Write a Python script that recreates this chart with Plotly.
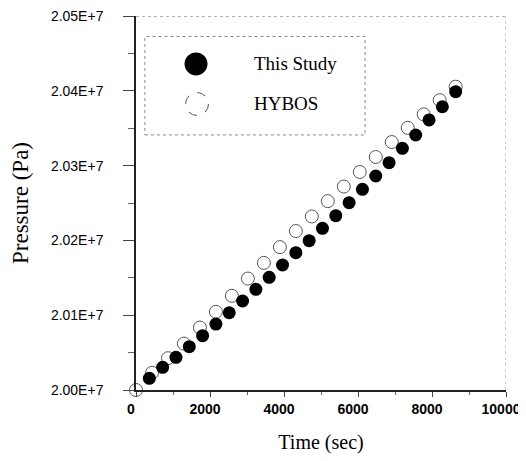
import plotly.graph_objects as go

# ---- data ----
study_time = [360, 720, 1080, 1440, 1800, 2160, 2520, 2880, 3240, 3600, 3960, 4320,
              4680, 5040, 5400, 5760, 6120, 6480, 6840, 7200, 7560, 7920, 8280, 8640]
study_pressure = [20015600, 20030300, 20043700, 20057900, 20072600, 20088200, 20103300,
                  20119000, 20134600, 20150700, 20167100, 20183600, 20199600, 20216200,
                  20233000, 20250400, 20268300, 20286100, 20303900, 20323100, 20340900,
                  20361000, 20378700, 20398800]

hybos_time = [0, 432, 864, 1296, 1728, 2160, 2592, 3024, 3456, 3888, 4320, 4752,
              5184, 5616, 6048, 6480, 6912, 7344, 7776, 8208, 8640]
hybos_pressure = [20000000, 20023000, 20042500, 20062000, 20083500, 20104500, 20126000,
                  20149000, 20170000, 20191000, 20212500, 20232000, 20252500, 20272000,
                  20291500, 20311500, 20331500, 20350500, 20368500, 20387500, 20405500]

x_tick_vals = [0, 2000, 4000, 6000, 8000, 10000]
x_tick_text = ["0", "2000", "4000", "6000", "8000", "10000"]
y_tick_vals = [20000000, 20100000, 20200000, 20300000, 20400000, 20500000]
y_tick_text = ["2.00E+7", "2.01E+7", "2.02E+7", "2.03E+7", "2.04E+7", "2.05E+7"]

series_names = ["This Study", "HYBOS"]

SERIF = "Liberation Serif, Times New Roman, serif"
SANS = "Liberation Sans, Arial, sans-serif"

fig = go.Figure()
fig.add_trace(go.Scatter(
    x=hybos_time, y=hybos_pressure, mode="markers", name=series_names[1],
    marker=dict(symbol="circle", size=13, color="white",
                line=dict(color="#555555", width=1)),
    showlegend=False, cliponaxis=False))
fig.add_trace(go.Scatter(
    x=study_time, y=study_pressure, mode="markers", name=series_names[0],
    marker=dict(symbol="circle", size=13, color="black",
                line=dict(color="black", width=0)),
    showlegend=False, cliponaxis=False))

fig.update_layout(
    width=518, height=453,
    margin=dict(l=128, r=20, t=8, b=71),
    paper_bgcolor="white", plot_bgcolor="white",
    showlegend=False,
    xaxis=dict(range=[0, 10000], tickvals=x_tick_vals, ticktext=x_tick_text,
               automargin=False, ticklabeloverflow="allow",
               showgrid=False, zeroline=False,
               showline=True, linecolor="#222222", linewidth=1.5,
               ticks="outside", ticklen=5, tickcolor="#444444", tickwidth=1,
               minor=dict(dtick=1000, ticks="outside", ticklen=3, tickcolor="#666666"),
               ticklabelstandoff=0, ticklabelshift=-5,
               tickfont=dict(family=SANS, size=14, color="black", weight="bold"),
               title=dict(text="Time (sec)", font=dict(family=SERIF, size=20, color="black"),
                          standoff=19)),
    yaxis=dict(range=[20000000, 20500000], tickvals=y_tick_vals, ticktext=y_tick_text,
               automargin=False, ticklabeloverflow="allow",
               showgrid=False, zeroline=False,
               showline=True, linecolor="#222222", linewidth=1.5,
               ticks="outside", ticklen=11, tickcolor="#444444", tickwidth=1,
               minor=dict(dtick=50000, ticks="outside", ticklen=6, tickcolor="#666666"),
               ticklabelstandoff=17,
               tickfont=dict(family=SANS, size=14, color="black"),
               title=dict(text="Pressure (Pa)", font=dict(family=SERIF, size=23, color="black"),
                          standoff=18)),
)

# dotted top / right frame lines
fig.add_shape(type="line", xref="x", yref="y", x0=0, x1=10000, y0=20500000, y1=20500000,
              line=dict(color="#666666", width=1, dash="dot"))
fig.add_shape(type="line", xref="x", yref="y", x0=10000, x1=10000, y0=20000000, y1=20500000,
              line=dict(color="#999999", width=1, dash="dot"))

# custom legend (box, symbols, labels)
fig.add_shape(type="rect", xref="paper", yref="paper", x0=0.024, x1=0.619, y0=0.682, y1=0.945,
              line=dict(color="#888888", width=1, dash="dot"), fillcolor="white", layer="above")
fig.add_shape(type="circle", xref="paper", yref="paper",
              x0=0.1622 - 0.031, x1=0.1622 + 0.031, y0=0.8717 - 0.0307, y1=0.8717 + 0.0307,
              fillcolor="black", line=dict(color="black", width=0), layer="above")
fig.add_shape(type="circle", xref="paper", yref="paper",
              x0=0.1649 - 0.031, x1=0.1649 + 0.031, y0=0.7647 - 0.0307, y1=0.7647 + 0.0307,
              fillcolor="white", line=dict(color="#555555", width=1, dash="dash"), layer="above")
fig.add_annotation(xref="paper", yref="paper", x=0.3135, y=0.8717, xanchor="left",
                   yanchor="middle", text=series_names[0], showarrow=False,
                   font=dict(family=SERIF, size=19, color="black"))
fig.add_annotation(xref="paper", yref="paper", x=0.3135, y=0.767, xanchor="left",
                   yanchor="middle", text=series_names[1], showarrow=False,
                   font=dict(family=SERIF, size=19, color="black"))

fig.write_html("out.html")
